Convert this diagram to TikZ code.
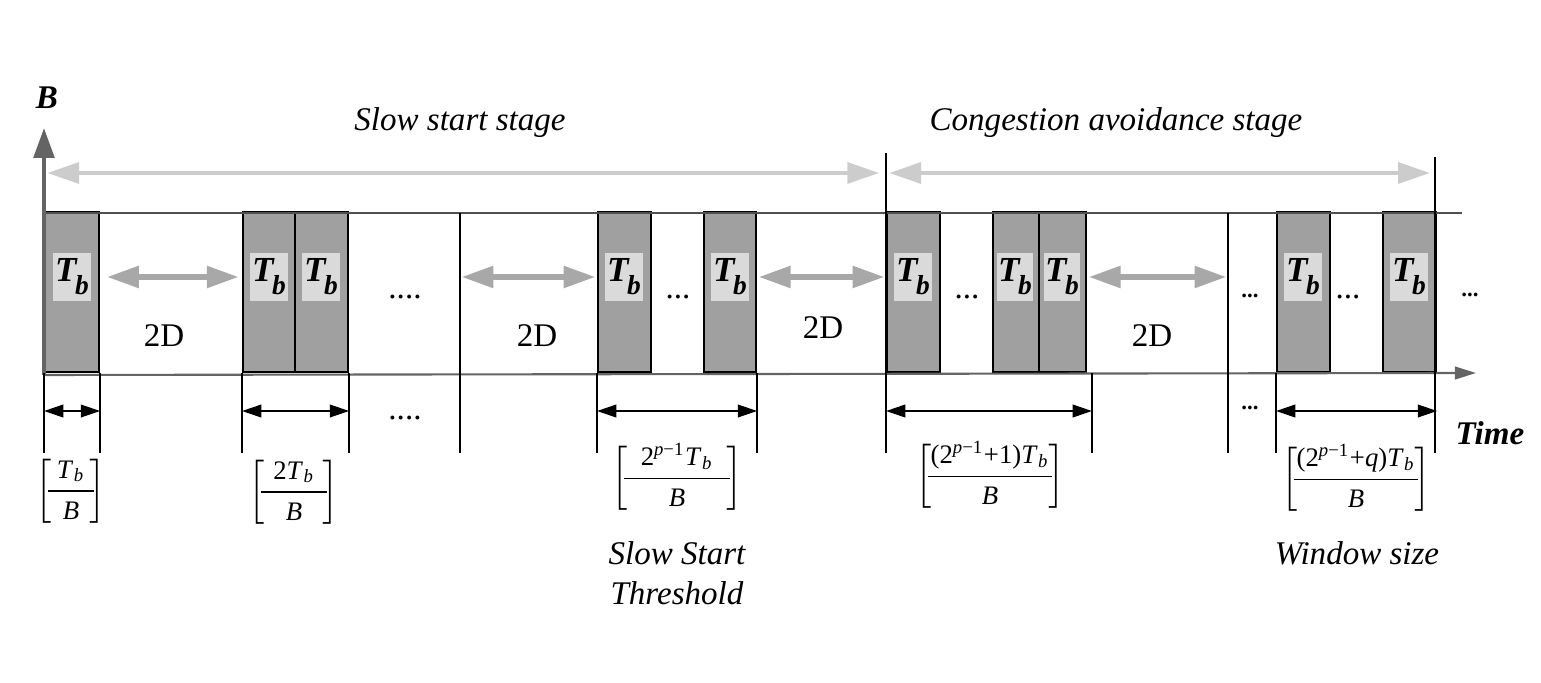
\documentclass[tikz,border=0pt]{standalone}
\usepackage{amsmath}
\usepackage{fontspec}
\setmainfont{Liberation Serif}
\usetikzlibrary{arrows.meta}

\definecolor{blockgray}{RGB}{160,160,160}
\definecolor{labelgray}{RGB}{218,218,218}
\definecolor{gaparrow}{RGB}{168,168,168}
\definecolor{stagearrow}{RGB}{204,204,204}
\definecolor{axisgray}{RGB}{100,100,100}

\newcommand{\Tb}{{\bfseries\itshape T\kern-0.04em\raisebox{-0.8ex}{\fontsize{7.8}{8}\selectfont b}}}
\newcommand{\fTb}{\textit{T}\kern0.02em\textsubscript{\textit{b}}}
\newcommand{\fpow}{2\textsuperscript{\textit{p}−1}}
\newcommand{\ceilfrac}[2]{\left[\mkern-5mu\dfrac{\mbox{#1}}{\mbox{\textit{#2}}}\mkern-5mu\right]}

\tikzset{
  seg/.style={draw=black, line width=0.6pt, fill=blockgray, minimum height=1.6cm,
    inner sep=0pt, anchor=south west},
  tblabel/.style={fill=labelgray, minimum width=0.38cm, minimum height=0.47cm, inner sep=0pt},
  gap/.style={draw=gaparrow, line width=1.5pt,
    {Triangle[length=9pt,width=6pt]}-{Triangle[length=9pt,width=6pt]}},
  stage/.style={draw=stagearrow, line width=0.9pt,
    {Triangle[length=9pt,width=6pt]}-{Triangle[length=9pt,width=6pt]}},
  dim/.style={draw=black, line width=0.5pt,
    {Triangle[length=5.5pt,width=3.6pt]}-{Triangle[length=5.5pt,width=3.6pt]}},
  tick/.style={draw=black, line width=0.6pt},
  txt/.style={font=\fontsize{9.4}{11.4}\selectfont, inner sep=0pt},
  ital/.style={font=\fontsize{9.4}{11.4}\selectfont\itshape, inner sep=0pt},
  boldital/.style={font=\fontsize{9.4}{11.4}\selectfont\bfseries\itshape, inner sep=0pt},
  frac/.style={font=\fontsize{7.6}{9}\selectfont, inner sep=0pt},
  smalldots/.style={font=\fontsize{6.5}{7}\selectfont\bfseries, inner sep=0pt},
}

\begin{document}
\begin{tikzpicture}[x=0.01cm,y=-0.01cm]
  \useasboundingbox (0,0) rectangle (1541,683);

  % frame coordinates
  \coordinate (O) at (44,375);
  \coordinate (Ytip) at (44,128);
  \coordinate (Xtip) at (1476,373);
  \coordinate (topL) at (44,213);
  \coordinate (topR) at (1462,213);
  \coordinate (m1) at (460,213);
  \coordinate (m1b) at (460,453);
  \coordinate (m2) at (1228,213);
  \coordinate (m2b) at (1228,453);
  \coordinate (s1) at (886,153);
  \coordinate (s1b) at (886,453);
  \coordinate (s2) at (1435,157);
  \coordinate (s2b) at (1435,453);
  \coordinate (t6) at (1092,373);

  % segments
  \node[seg, minimum width=0.54cm] (b1) at (44,373) {};
  \node[seg, minimum width=0.52cm] (b2a) at (242,373) {};
  \node[seg, minimum width=0.53cm] (b2b) at (294,373) {};
  \node[seg, minimum width=0.53cm] (b3) at (597,373) {};
  \node[seg, minimum width=0.52cm] (b4) at (703,373) {};
  \node[seg, minimum width=0.53cm] (b5) at (886,373) {};
  \node[seg, minimum width=0.46cm] (b6a) at (992,373) {};
  \node[seg, minimum width=0.47cm] (b6b) at (1038,373) {};
  \node[seg, minimum width=0.53cm] (b7) at (1276,373) {};
  \node[seg, minimum width=0.53cm] (b8) at (1382,373) {};

  % Tb labels
  \node[tblabel] (l1) at (72,277) {\Tb};
  \node[tblabel] (l2a) at (269,277) {\Tb};
  \node[tblabel] (l2b) at (321,277) {\Tb};
  \node[tblabel] (l3) at (624,277) {\Tb};
  \node[tblabel] (l4) at (730,277) {\Tb};
  \node[tblabel] (l5) at (913,277) {\Tb};
  \node[tblabel, minimum width=0.36cm] (l6a) at (1015,277) {\Tb};
  \node[tblabel, minimum width=0.36cm] (l6b) at (1062,277) {\Tb};
  \node[tblabel] (l7) at (1303,277) {\Tb};
  \node[tblabel] (l8) at (1409,277) {\Tb};

  % axes and frame lines
  \draw[draw=axisgray!80!black, line width=0.45pt] (topL) -- (topR);
  \draw[draw=axisgray, line width=0.6pt, -{Triangle[length=6pt,width=3.6pt]}] (O) -- (Xtip);
  \draw[draw=axisgray, line width=1.2pt, -{Triangle[length=8.5pt,width=5.8pt]}] (O) -- (Ytip);
  \draw[tick] (m1) -- (m1b);
  \draw[tick] (m2) -- (m2b);
  \draw[tick] (s1) -- (s1b);
  \draw[tick] (s2) -- (s2b);

  % stage arrows
  \draw[stage, shorten <=1pt, shorten >=2pt] (Ytip |- 0,173) -- (s1 |- 0,173);
  \draw[stage, shorten <=1pt, shorten >=1.5pt] (s1 |- 0,173) -- (s2 |- 0,173);
  \node[ital, anchor=base] (slow) at (460,131) {Slow start stage};
  \node[ital, anchor=base] (cong) at (1116,131) {Congestion avoidance stage};
  \node[boldital] (ylab) at (47,98) {B};
  \node[boldital] (tlab) at (1490,433) {Time};

  % 2D gaps
  \draw[gap, shorten <=2pt, shorten >=1pt] (b1.east |- l1) -- (b2a.west |- l1);
  \draw[gap, shorten <=0.5pt, shorten >=0.5pt] (m1 |- l1) -- (b3.west |- l1);
  \draw[gap, shorten <=0.5pt, shorten >=0.5pt] (b4.east |- l1) -- (s1 |- l1);
  \draw[gap, shorten <=0.5pt, shorten >=0.5pt] (b6b.east |- l1) -- (m2 |- l1);
  \node[txt] (d2a) at (164,336) {2D};
  \node[txt] (d2b) at (537,336) {2D};
  \node[txt] (d2c) at (823,328) {2D};
  \node[txt] (d2d) at (1152,336) {2D};

  % dots
  \node[txt] (dots1) at (405,297) {....};
  \node[txt] (dots2) at (678,297) {...};
  \node[txt] (dots3) at (967,297) {...};
  \node[smalldots] (dots4) at (1250,296) {...};
  \node[txt] (dots5) at (1348,297) {...};
  \node[smalldots] (dots6) at (1470,295) {...};
  \node[txt] (dots7) at (405,418) {....};
  \node[smalldots] (dots8) at (1250,408) {...};

  % ticks below the time axis
  \draw[tick] (b1.south west) -- ++(0,80);
  \draw[tick] (b1.south east) -- ++(0,80);
  \draw[tick] (b2a.south west) -- ++(0,80);
  \draw[tick] (b2b.south east) -- ++(0,80);
  \draw[tick] (b3.south west) -- ++(0,80);
  \draw[tick] (b4.south east) -- ++(0,80);
  \draw[tick] (t6) -- ++(0,80);
  \draw[tick] (b7.south west) -- ++(0,80);

  % durations
  \draw[dim] ([yshift=-0.38cm]b1.south west) -- ([yshift=-0.38cm]b1.south east);
  \draw[dim] ([yshift=-0.38cm]b2a.south west) -- ([yshift=-0.38cm]b2b.south east);
  \draw[dim] ([yshift=-0.38cm]b3.south west) -- ([yshift=-0.38cm]b4.south east);
  \draw[dim] ([yshift=-0.38cm]b5.south west) -- ([yshift=-0.38cm]t6);
  \draw[dim] ([yshift=-0.38cm]b7.south west) -- ([yshift=-0.38cm]b8.south east);

  \node[frac] (f1) at (71,491) {$\ceilfrac{\hspace{0.09cm}\fTb\hspace{0.09cm}}{B}$};
  \node[frac] (f2) at (294,492) {$\ceilfrac{\hspace{0.12cm}2\fTb\hspace{0.12cm}}{B}$};
  \node[frac] (f3) at (677,477) {$\ceilfrac{\hspace{0.17cm}\fpow\fTb\hspace{0.17cm}}{B}$};
  \node[frac] (f4) at (990,475) {$\ceilfrac{\hspace{0.03cm}(\fpow+1)\fTb\hspace{0.03cm}}{B}$};
  \node[frac] (f5) at (1356,478) {$\ceilfrac{\hspace{0.03cm}(\fpow+\textit{q})\fTb\hspace{0.03cm}}{B}$};

  \node[ital, align=center] (thr) at (677,573) {Slow Start\\Threshold};
  \node[ital] (win) at (1357,553) {Window size};
\end{tikzpicture}
\end{document}
